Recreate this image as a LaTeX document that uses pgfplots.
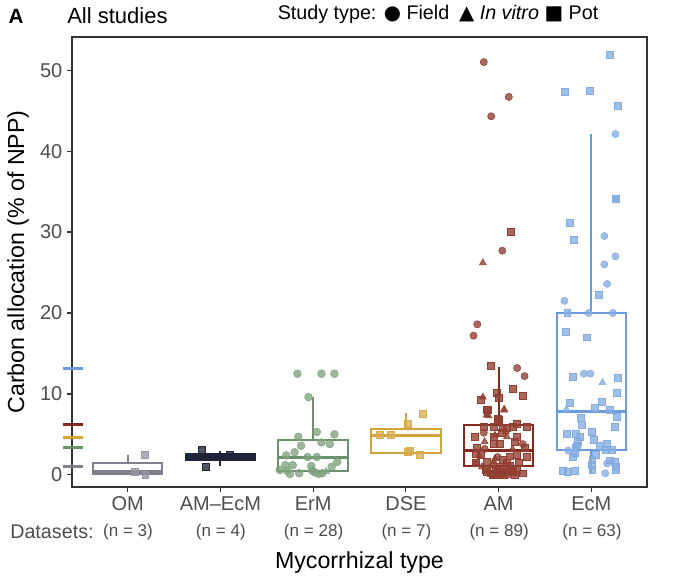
\documentclass[border=0pt]{standalone}
\usepackage{pgfplots}
\pgfplotsset{compat=1.18}
\usepgfplotslibrary{statistics}
\usepackage{fontspec}
\setmainfont{Liberation Sans}
\newfontfamily\sym{DejaVu Sans}
\definecolor{omc}{RGB}{128,127,142}
\definecolor{omp}{RGB}{150,149,165}
\definecolor{aec}{RGB}{32,36,56}
\definecolor{erc}{RGB}{106,146,106}
\definecolor{erp}{RGB}{126,163,126}
\definecolor{dsc}{RGB}{214,163,58}
\definecolor{dsp}{RGB}{218,172,80}
\definecolor{amc}{RGB}{130,42,28}
\definecolor{amp}{RGB}{145,62,48}
\definecolor{ecc}{RGB}{108,154,220}
\definecolor{ecp}{RGB}{132,172,226}
\definecolor{txt}{RGB}{77,77,77}
\begin{document}
\begin{tikzpicture}
\useasboundingbox (0,0) rectangle (510pt,434.25pt);
\begin{axis}[at={(54pt,69pt)}, anchor=south west,
  width=431.25pt, height=337.5pt, scale only axis,
  xmin=-0.6, xmax=5.6, ymin=-1.5, ymax=54.1,
  clip=false,
  axis line style={draw=black!80, line width=1.1pt},
  tick pos=left, tick align=outside, major tick length=3.75pt,
  tick style={black!80, line width=0.9pt},
  xtick={0,1,2,3,4,5},
  xticklabels={OM, AM–EcM, ErM, DSE, AM, EcM},
  ytick={0,10,20,30,40,50},
  /pgf/number format/assume math mode=true,
  ticklabel style={font=\fontsize{15}{17}\selectfont, text=txt},
  boxplot/draw direction=y,
  every boxplot/.style={solid, line width=1.5pt},
  boxplot/every median/.style={line width=2.4pt},
  scatter points/.style={only marks, fill opacity=0.78, mark options={draw=none}},
]
% ---- boxes ----
\addplot[omc, boxplot prepared={draw position=0, lower whisker=0, lower quartile=0.12, median=0.37, upper quartile=1.45, upper whisker=2.5, box extend=0.75, whisker extend=0}] coordinates {};
\addplot[aec, boxplot prepared={draw position=1, lower whisker=1.1, lower quartile=1.85, median=2.2, upper quartile=2.6, upper whisker=3.0, box extend=0.75, whisker extend=0}] coordinates {};
\addplot[erc, boxplot prepared={draw position=2, lower whisker=0.1, lower quartile=0.5, median=2.1, upper quartile=4.3, upper whisker=9.6, box extend=0.75, whisker extend=0}] coordinates {};
\addplot[dsc, boxplot prepared={draw position=3, lower whisker=2.5, lower quartile=2.7, median=4.9, upper quartile=5.7, upper whisker=7.6, box extend=0.75, whisker extend=0}] coordinates {};
\addplot[amc, boxplot prepared={draw position=4, lower whisker=0, lower quartile=1.05, median=3.0, upper quartile=6.2, upper whisker=13.3, box extend=0.75, whisker extend=0}] coordinates {};
\addplot[ecc, boxplot prepared={draw position=5, lower whisker=0.2, lower quartile=3.1, median=7.8, upper quartile=20.0, upper whisker=42.1, box extend=0.75, whisker extend=0}] coordinates {};
% ---- mean ticks on the y axis ----
\addplot[ecc, line width=2.2pt] coordinates {(-0.70,13.1) (-0.485,13.1)};
\addplot[amc, line width=2.2pt] coordinates {(-0.70,6.2) (-0.485,6.2)};
\addplot[dsc, line width=2.2pt] coordinates {(-0.70,4.6) (-0.485,4.6)};
\addplot[erc, line width=2.2pt] coordinates {(-0.70,3.4) (-0.485,3.4)};
\addplot[omc, line width=2.2pt] coordinates {(-0.70,1.0) (-0.485,1.0)};
% ---- OM ----
\addplot[scatter points, mark=square*, mark size=2.6pt, omp] coordinates {(0.18,2.5) (0.08,0.35) (0.19,0.0)};
% ---- AM-EcM ----
\addplot[scatter points, mark=square*, mark size=2.6pt, aec] coordinates {(0.8,3.1) (0.84,1.0) (1.1,2.5) (1.02,2.2)};
% ---- ErM ----
\addplot[scatter points, mark=*, mark size=2.9pt, erp] coordinates {
(1.83,12.5) (2.09,12.5) (2.23,12.5) (1.95,9.6) (2.04,5.3) (2.23,5.0) (1.84,4.7)
(2.09,4.0) (2.18,3.8) (1.87,3.6) (1.80,2.8) (1.71,2.4) (1.94,2.2) (2.04,2.2)
(2.26,1.6) (1.70,1.2) (1.78,1.2) (2.20,1.0) (1.98,1.1) (1.72,0.5) (1.85,0.2)
(2.02,0.3) (2.10,0.2) (2.06,0.1) (1.75,0.1) (1.64,0.6) (1.99,0.5)};
\addplot[scatter points, mark=triangle*, mark size=3pt, erp] coordinates {(2.14,0.4)};
% ---- DSE ----
\addplot[scatter points, mark=square*, mark size=2.6pt, dsp] coordinates {
(2.72,4.9) (2.84,5.0) (3.02,6.3) (3.18,7.6) (3.02,2.8) (3.04,3.0) (3.15,2.5)};
% ---- AM ----
\addplot[scatter points, mark=*, mark size=2.7pt, amp] coordinates {
(3.84,51.0) (4.11,46.7) (3.92,44.3) (4.04,27.7) (3.77,18.6) (3.73,17.2)
(4.20,13.2) (4.28,12.2) (3.84,5.2) (4.26,3.8) (3.85,3.2) (3.99,2.2)
(3.99,0.6) (4.11,0.05) (3.94,1.2) (4.10,0.3)};
\addplot[scatter points, mark=triangle*, mark size=3pt, amp] coordinates {
(3.83,26.2) (3.83,9.6) (4.06,8.1) (3.89,7.3) (3.88,7.4) (4.06,8.0) (3.87,7.4)
(4.08,5.3) (4.09,4.7) (3.85,4.1) (4.15,3.2) (3.96,2.0) (3.82,1.0) (3.96,4.9)
(3.95,1.6) (3.79,2.4)};
\addplot[scatter points, mark=square*, mark size=2.6pt, amp] coordinates {
(4.13,30.0) (3.92,13.5) (4.15,10.6) (4.26,9.8) (3.81,9.3) (3.98,10.1) (4.0,9.5)
(3.87,8.1) (4.0,6.8) (3.88,8.0) (3.99,6.9) (4.20,6.3) (3.84,5.9) (3.95,5.9)
(4.04,5.8) (4.09,5.8) (4.15,5.9) (4.30,5.9) (4.03,5.2) (3.74,4.7) (3.95,3.9)
(4.01,3.9) (4.17,4.1) (3.76,3.3) (4.28,3.3) (3.75,2.6) (3.81,2.5) (4.12,2.3)
(4.20,2.5) (4.30,2.2) (4.04,1.9) (3.75,1.5) (3.87,1.6) (4.09,1.5) (4.22,1.5)
(3.86,0.6) (3.97,0.7) (4.04,0.4) (4.09,0.6) (4.15,0.4) (4.20,0.6) (4.26,0.2)
(3.94,0.0) (4.02,0.05) (4.06,0.0) (4.17,0.0) (4.01,1.0) (3.95,4.7) (4.20,4.7)
(3.87,0.4) (3.92,0.2) (3.98,0.0) (4.15,0.8) (3.95,0.1) (3.75,1.5) (4.12,1.1)};
% ---- EcM ----
\addplot[scatter points, mark=*, mark size=2.7pt, ecp] coordinates {
(5.26,42.1) (5.27,34.1) (5.14,29.5) (5.26,27.0) (5.14,26.0) (5.17,23.6)
(4.71,21.5) (4.97,20.0) (5.23,20.0) (4.92,12.5) (4.99,12.5) (5.17,1.4)
(5.15,0.2) (4.75,3.0)};
\addplot[scatter points, mark=triangle*, mark size=3pt, ecp] coordinates {
(5.12,11.4) (4.73,8.1)};
\addplot[scatter points, mark=square*, mark size=2.6pt, ecp] coordinates {
(5.20,51.9) (4.71,47.3) (4.98,47.4) (5.28,45.6) (5.26,34.1) (4.77,31.1) (4.81,29.1)
(5.08,22.2) (4.74,20.0) (4.72,17.7) (4.95,17.0) (4.80,12.1) (5.28,12.0) (5.27,10.1)
(4.77,8.9) (5.11,9.0) (5.04,8.3) (5.20,8.0) (5.27,7.2) (4.89,7.0) (5.25,5.9)
(4.73,5.1) (4.83,5.1) (5.0,5.3) (4.87,4.7) (5.03,4.3) (4.85,4.1) (5.17,3.9)
(5.09,3.6) (4.84,3.6) (5.16,3.1) (5.22,3.1) (4.82,2.7) (4.80,2.2) (5.01,1.9)
(5.25,1.6) (5.26,1.0) (5.01,0.6) (4.69,0.5) (4.74,0.4) (4.82,0.5) (5.26,0.6)
(4.83,3.3) (5.05,2.5) (4.90,6.2) (5.20,1.8) (5.0,1.2)};
\end{axis}
% ---- texts (pixel positions converted: x*0.75pt, (579-y)*0.75pt) ----
\node[font=\fontsize{15.5}{18}\selectfont\bfseries] at (12pt,422.25pt) {A};
\node[anchor=west, font=\fontsize{16.5}{19}\selectfont, inner sep=0pt] at (50.25pt,422.25pt) {All studies};
\node[font=\fontsize{14.8}{17}\selectfont, inner sep=0pt] at (328.5pt,423.75pt) {Study type: {\sym ●} Field\enspace{\sym ▲} \textit{In vitro} {\sym ■} Pot};
\node[anchor=west, font=\fontsize{14.8}{17}\selectfont, text=txt, inner sep=0pt] at (7.5pt,35.25pt) {Datasets:};
\foreach \i/\n in {0/3,1/4,2/28,3/7,4/89,5/63}
  \node[font=\fontsize{12.8}{15}\selectfont, text=txt] at ({(128+92.8*\i)*0.75pt},35.25pt) {(n = \n)};
\node[font=\fontsize{17.4}{20}\selectfont] at (269.6pt,12.75pt) {Mycorrhizal type};
\node[rotate=90, font=\fontsize{17.4}{20}\selectfont] at (13.5pt,237.75pt) {Carbon allocation (\% of NPP)};
\end{tikzpicture}
\end{document}
